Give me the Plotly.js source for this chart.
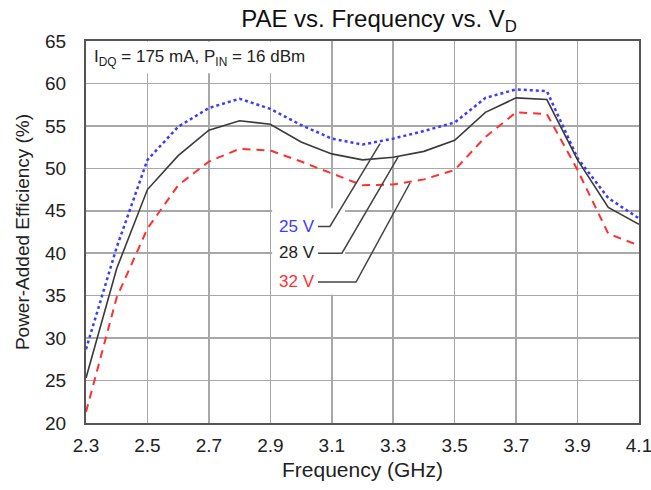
<!DOCTYPE html>
<html>
<head>
<meta charset="utf-8">
<script src="https://cdn.plot.ly/plotly-3.0.1.min.js"></script>
<style>html,body{margin:0;padding:0;background:#fff;}#chart{width:651px;height:490px;}</style>
</head>
<body>
<div id="chart"></div>
<script>
var freq = [2.3, 2.4, 2.5, 2.6, 2.7, 2.8, 2.9, 3.0, 3.1, 3.2, 3.3, 3.4, 3.5, 3.6, 3.7, 3.8, 3.9, 4.0, 4.1];
var pae25 = [28.7, 40.7, 51.0, 54.9, 57.1, 58.2, 57.0, 55.1, 53.5, 52.8, 53.5, 54.4, 55.4, 58.3, 59.3, 59.1, 51.2, 46.5, 44.1];
var pae28 = [25.3, 38.2, 47.5, 51.5, 54.5, 55.6, 55.2, 53.1, 51.7, 51.0, 51.3, 52.0, 53.3, 56.6, 58.3, 58.1, 51.0, 45.4, 43.4];
var pae32 = [21.3, 34.8, 42.9, 48.0, 50.8, 52.3, 52.1, 50.8, 49.4, 48.0, 48.1, 48.7, 49.8, 53.7, 56.6, 56.4, 49.8, 42.3, 40.9];
var seriesNames = ['25 V', '28 V', '32 V'];
var xTicks = [2.3, 2.5, 2.7, 2.9, 3.1, 3.3, 3.5, 3.7, 3.9, 4.1];
var yTicks = [20, 25, 30, 35, 40, 45, 50, 55, 60, 65];

var FF = 'Liberation Sans, Arial, sans-serif';
var traces = [
  {x: freq, y: pae25, name: seriesNames[0], mode: 'lines', line: {color: '#3b3bff', width: 2.5, dash: 'dot'}},
  {x: freq, y: pae28, name: seriesNames[1], mode: 'lines', line: {color: '#3a3a3a', width: 1.6}},
  {x: freq, y: pae32, name: seriesNames[2], mode: 'lines', line: {color: '#ff3030', width: 2, dash: '8px,6px'}}
];

var layout = {
  width: 651, height: 490,
  margin: {l: 86, r: 12, t: 41, b: 67},
  paper_bgcolor: '#fff', plot_bgcolor: '#fff',
  showlegend: false,
  title: {text: 'PAE vs. Frequency vs. V<sub>D</sub>', font: {family: FF, size: 24, color: '#111'},
          x: 0.53, xref: 'paper', xanchor: 'center', y: 0.963, yref: 'container', yanchor: 'middle'},
  xaxis: {range: [2.3, 4.1], tickvals: xTicks, ticktext: xTicks.map(function(v){return v.toFixed(1);}),
          showgrid: true, gridcolor: '#a8a8a8', gridwidth: 1.5, zeroline: false,
          showline: true, mirror: true, linecolor: '#555', linewidth: 2, ticks: '', ticklabelstandoff: 4,
          ticklabeloverflow: 'allow',
          tickfont: {family: FF, size: 19, color: '#222'},
          title: {text: 'Frequency (GHz)', font: {family: FF, size: 21, color: '#222'}, standoff: 8}},
  yaxis: {range: [20, 65], tickvals: yTicks,
          showgrid: true, gridcolor: '#a8a8a8', gridwidth: 1.5, zeroline: false,
          showline: true, mirror: true, linecolor: '#555', linewidth: 2, ticks: '', ticklabelstandoff: 14,
          ticklabeloverflow: 'allow',
          tickfont: {family: FF, size: 19, color: '#222'},
          title: {text: 'Power-Added Efficiency (%)', font: {family: FF, size: 19, color: '#222'}, standoff: 10}},
  shapes: [
    {type: 'rect', layer: 'between', xref: 'x', yref: 'y', x0: 2.31, x1: 3.08, y0: 61.2, y1: 64.9, fillcolor: '#fff', line: {width: 0}},
    {type: 'rect', layer: 'between', xref: 'x', yref: 'y', x0: 2.906, x1: 3.143, y0: 35.1, y1: 45.3, fillcolor: '#fff', line: {width: 0}},
    {type: 'path', layer: 'above', xref: 'x', yref: 'y', path: 'M3.055,43.15 L3.094,43.15 L3.257,52.9', line: {color: '#444', width: 1.5}},
    {type: 'path', layer: 'above', xref: 'x', yref: 'y', path: 'M3.055,40.0 L3.133,40.0 L3.316,51.35', line: {color: '#444', width: 1.5}},
    {type: 'path', layer: 'above', xref: 'x', yref: 'y', path: 'M3.055,36.6 L3.179,36.6 L3.355,48.3', line: {color: '#444', width: 1.5}}
  ],
  annotations: [
    {text: 'I<sub>DQ</sub> = 175 mA, P<sub>IN</sub> = 16 dBm', xref: 'x', yref: 'y', x: 2.318, y: 63.0, xanchor: 'left', yanchor: 'middle', showarrow: false,
     font: {family: FF, size: 17, color: '#222'}},
    {text: seriesNames[0], xref: 'x', yref: 'y', x: 3.053, y: 43.2, xanchor: 'right', yanchor: 'middle', showarrow: false, font: {family: FF, size: 17, color: '#3b3bff'}},
    {text: seriesNames[1], xref: 'x', yref: 'y', x: 3.053, y: 40.05, xanchor: 'right', yanchor: 'middle', showarrow: false, font: {family: FF, size: 17, color: '#222'}},
    {text: seriesNames[2], xref: 'x', yref: 'y', x: 3.053, y: 36.65, xanchor: 'right', yanchor: 'middle', showarrow: false, font: {family: FF, size: 17, color: '#ff3030'}}
  ]
};
Plotly.newPlot('chart', traces, layout, {displayModeBar: false, staticPlot: true});
</script>
</body>
</html>
